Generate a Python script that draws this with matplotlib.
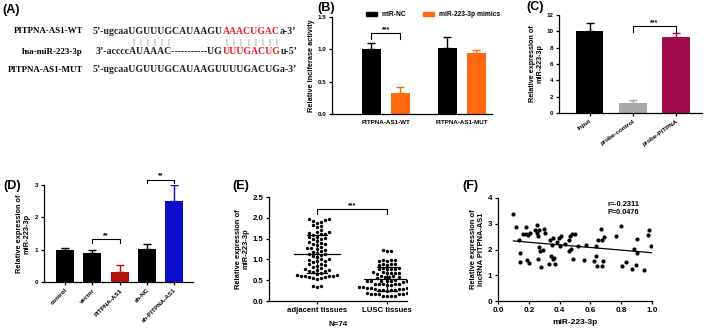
import matplotlib
matplotlib.use('Agg')
import matplotlib.pyplot as plt
from matplotlib.font_manager import FontProperties
from matplotlib.patches import Patch
import numpy as np

plt.rcParams['font.family'] = 'Liberation Sans'
plt.rcParams['font.weight'] = 'bold'
plt.rcParams['axes.labelweight'] = 'bold'
plt.rcParams['axes.linewidth'] = 0.9
plt.rcParams['xtick.major.width'] = 0.9
plt.rcParams['ytick.major.width'] = 0.9
plt.rcParams['xtick.major.size'] = 2.5
plt.rcParams['ytick.major.size'] = 2.5
plt.rcParams['xtick.major.pad'] = 1.5
plt.rcParams['ytick.major.pad'] = 1.5

# (A) sequences
a_names = ['PITPNA-AS1-WT', 'hsa-miR-223-3p', 'PITPNA-AS1-MUT']
a_wt = ["5’-ugcaaUGUUUGCAUAAGU", "AAACUGAC", "a-3’"]
a_mir = ["3’-accccAUAAAC-----------UG", "UUUGACUG", "u-5’"]
a_mut = ["5’-ugcaaUGUUUGCAUAAGUUUUGACUGa-3’"]

# (B) luciferase assay
b_groups = ['PITPNA-AS1-WT', 'PITPNA-AS1-MUT']
b_nc = [1.0, 1.02]
b_nc_err = [0.10, 0.17]
b_mim = [0.33, 0.94]
b_mim_err = [0.08, 0.05]

# (C) pull-down
c_labels = ['Input', 'probe-control', 'probe-PITPNA']
c_vals = [10.1, 1.2, 9.25]
c_err = [0.9, 0.35, 0.5]

# (D) overexpression / knockdown
d_labels = ['control', 'vector', 'PITPNA-AS1', 'sh-NC', 'sh-PITPNA-AS1']
d_vals = [1.0, 0.91, 0.32, 1.03, 2.52]
d_err = [0.05, 0.09, 0.20, 0.16, 0.48]

# (E) tissues, N=74
e_labels = ['adjacent tissues', 'LUSC tissues']
e_adjacent = [1.97, 1.95, 1.93, 1.96, 1.90, 1.88, 1.80, 1.82, 1.78, 1.70,
              1.65, 1.63, 1.60, 1.62, 1.66, 1.58, 1.52, 1.50, 1.55, 1.48,
              1.53, 1.45, 1.40, 1.38, 1.42, 1.36, 1.35, 1.28, 1.25, 1.30,
              1.22, 1.27, 1.20, 1.18, 1.12, 1.10, 1.08, 1.15, 1.05, 1.13,
              0.98, 1.00, 0.95, 0.97, 1.02, 0.93, 0.90, 0.85, 0.88, 0.82,
              0.86, 0.80, 0.75, 0.73, 0.76, 0.72, 0.74, 0.70, 0.68, 0.65,
              0.62, 0.60, 0.58, 0.63, 0.57, 0.61, 0.55, 0.59, 0.60, 0.56,
              0.54, 0.36, 0.34, 0.35]
e_lusc = [1.22, 1.21, 1.20, 0.98, 0.99, 0.97, 0.98, 0.96, 0.88, 0.89,
          0.87, 0.88, 0.86, 0.78, 0.79, 0.77, 0.78, 0.80, 0.76, 0.68,
          0.69, 0.67, 0.68, 0.70, 0.66, 0.68, 0.58, 0.59, 0.57, 0.58,
          0.60, 0.56, 0.48, 0.49, 0.47, 0.48, 0.50, 0.46, 0.48, 0.49,
          0.40, 0.41, 0.39, 0.40, 0.42, 0.38, 0.40, 0.32, 0.33, 0.31,
          0.32, 0.34, 0.30, 0.32, 0.33, 0.27, 0.28, 0.26, 0.27, 0.29,
          0.25, 0.27, 0.18, 0.19, 0.17, 0.18, 0.20, 0.16, 0.18, 0.19,
          0.12, 0.13, 0.11, 0.12]

# (F) correlation
f_mir = [0.10, 0.12, 0.135, 0.14, 0.146, 0.163, 0.18, 0.185, 0.19, 0.20,
         0.198, 0.21, 0.24, 0.25, 0.254, 0.259, 0.261, 0.265, 0.267, 0.272,
         0.28, 0.293, 0.298, 0.304, 0.33, 0.337, 0.343, 0.348, 0.354, 0.359,
         0.362, 0.37, 0.385, 0.398, 0.402, 0.407, 0.435, 0.459, 0.463, 0.467,
         0.472, 0.478, 0.489, 0.502, 0.522, 0.561, 0.572, 0.624, 0.637, 0.637,
         0.643, 0.652, 0.667, 0.676, 0.678, 0.685, 0.691, 0.765, 0.80, 0.807,
         0.828, 0.872, 0.88, 0.896, 0.902, 0.902, 0.95, 0.974, 0.98, 0.996]
f_lnc = [3.38, 2.86, 2.35, 1.87, 1.53, 2.60, 2.60, 2.86, 1.58, 1.47,
         2.58, 2.64, 2.77, 2.64, 2.94, 1.62, 2.51, 2.77, 2.08, 1.95,
         1.32, 1.99, 2.81, 2.64, 1.44, 2.35, 1.75, 2.18, 2.44, 1.62,
         1.66, 1.44, 2.31, 2.44, 2.12, 2.51, 2.22, 2.38, 1.95, 2.51,
         2.03, 2.61, 1.62, 2.60, 2.12, 1.60, 2.16, 1.56, 2.12, 1.75,
         1.34, 2.35, 2.81, 2.35, 1.34, 1.56, 2.47, 2.53, 2.90, 1.34,
         1.51, 1.25, 2.03, 1.40, 2.42, 1.87, 1.21, 2.57, 2.77, 2.12]

W, H = 709, 331
fig = plt.figure(figsize=(W / 100, H / 100), dpi=100)


def ax_px(l, t, r, b):
    a = fig.add_axes([l / W, 1 - b / H, (r - l) / W, (b - t) / H])
    a.spines['top'].set_visible(False)
    a.spines['right'].set_visible(False)
    return a


def bracket(ax, x1, x2, y, h, txt, fs=5):
    ax.plot([x1, x1, x2, x2], [y - h, y, y, y - h], color='k', lw=0.8, clip_on=False)
    ax.text((x1 + x2) / 2, y, txt, ha='center', va='bottom', fontsize=fs, clip_on=False)


def upbars(ax, x, v, e, cols):
    for xi, vi, ei, c in zip(x, v, e, cols):
        ax.errorbar([xi], [vi], yerr=[[0], [ei]], fmt='none', ecolor=c,
                    elinewidth=1.0, capsize=3, capthick=1.0)


def panel(x, y, s):
    fig.text(x / W, 1 - y / H, s, fontsize=9, ha='left', va='center')


# ---- (A)
panel(2, 10, '(A)')
r = fig.canvas.get_renderer()
sfp = FontProperties(family='Liberation Serif', weight='bold', size=7)
nfp = FontProperties(family='Liberation Serif', weight='bold', size=6.4)


def seq_row(x, y, parts, colors):
    for s, c in zip(parts, colors):
        t = fig.text(x / W, 1 - y / H, s, fontproperties=sfp, color=c, ha='left', va='center')
        x = t.get_window_extent(r).x1


def wpx(s):
    return r.get_text_width_height_descent(s, sfp, ismath=False)[0]


rows_y = [31, 52, 70]
for nm, yy in zip(a_names, rows_y):
    fig.text(83 / W, 1 - yy / H, nm, fontproperties=nfp, ha='right', va='center')
seq_row(93, rows_y[0], a_wt, ['#222222', '#e8202a', '#222222'])
seq_row(96, rows_y[1], a_mir, ['#222222', '#e8202a', '#222222'])
seq_row(93, rows_y[2], a_mut, ['#222222'])
mir_full = ''.join(a_mir)
start2 = len(a_mir[0])
pair_idx = list(range(8, 14)) + list(range(start2, start2 + len(a_mir[1])))
for i in pair_idx:
    xc = 96 + (wpx(mir_full[:i]) + wpx(mir_full[:i + 1])) / 2
    fig.text(xc / W, 1 - 42 / H, '|', fontsize=5, color='#888888', ha='center', va='center',
             fontweight='normal')

# ---- (B)
panel(317, 8, '(B)')
ax = ax_px(332, 17, 492, 114)
xb = np.arange(len(b_groups))
ax.bar(xb - 0.19, b_nc, 0.25, color='black')
ax.bar(xb + 0.19, b_mim, 0.25, color='#ff6a10')
upbars(ax, xb - 0.19, b_nc, b_nc_err, ['black'] * 2)
upbars(ax, xb + 0.19, b_mim, b_mim_err, ['#ff6a10'] * 2)
ax.set_xlim(-0.71, 1.4)
ax.set_ylim(0, 1.5)
ax.set_yticks([0, 0.5, 1.0, 1.5])
ax.set_yticklabels(['0.0', '0.5', '1.0', '1.5'])
ax.set_xticks(xb)
ax.set_xticklabels(b_groups)
ax.tick_params(axis='x', length=0, pad=4)
ax.tick_params(labelsize=4.5)
ax.set_ylabel('Relative lnciferase activity', fontsize=5.3, labelpad=2)
bracket(ax, -0.19, 0.19, 1.25, 0.09, '***')
fig.legend(handles=[Patch(color='black', label='miR-NC'), Patch(color='#ff6a10', label='miR-223-3p mimics')],
           loc='center left', bbox_to_anchor=(360 / W, 1 - 15 / H), ncol=2, frameon=False,
           fontsize=4.8, handlelength=1.6, handleheight=0.5, columnspacing=2.5, handletextpad=0.8)

# ---- (C)
panel(526, 7, '(C)')
ax = ax_px(559, 15, 702, 113)
xc = np.arange(len(c_labels))
c_cols = ['black', '#a8a8a8', '#a30c4c']
ax.bar(xc, c_vals, 0.64, color=c_cols)
upbars(ax, xc, c_vals, c_err, c_cols)
ax.set_xlim(-0.71, 2.6)
ax.set_ylim(0, 12)
ax.set_yticks(range(0, 13, 2))
ax.set_xticks(xc)
ax.set_xticklabels(c_labels, rotation=35, ha='right', rotation_mode='anchor')
ax.tick_params(labelsize=4.5)
ax.set_ylabel('Relative expression of\nmiR-223-3p', fontsize=5.2, labelpad=2)
bracket(ax, 1, 2, 10.6, 0.7, '***')

# ---- (D)
panel(3, 186, '(D)')
ax = ax_px(44, 185, 193, 282)
xd = np.arange(len(d_labels))
d_cols = ['black', 'black', '#b3120f', 'black', '#0d0dcc']
ax.bar(xd, d_vals, 0.66, color=d_cols)
upbars(ax, xd, d_vals, d_err, d_cols)
ax.set_xlim(-0.77, 4.69)
ax.set_ylim(0, 3)
ax.set_yticks([0, 1, 2, 3])
ax.set_xticks(xd)
ax.set_xticklabels(d_labels, rotation=45, ha='right', rotation_mode='anchor')
ax.tick_params(labelsize=4.5)
ax.set_ylabel('Relative expression of\nmiR-223-3p', fontsize=5.3, labelpad=3)
bracket(ax, 1, 2, 1.33, 0.12, '**')
bracket(ax, 3, 4, 3.17, 0.12, '**')

# ---- (E)
panel(232, 186, '(E)')
ax = ax_px(269, 197, 407, 301)
E_XPX, E_YPX = 70.0, 104 / 2.5   # px per data unit, used only to space the dots


def swarm(vals, center, d=4.0):
    # simple beeswarm: place each dot at the smallest offset that avoids overlap
    v = np.sort(np.asarray(vals))
    placed = []
    xs = []
    for y in v:
        yp = y * E_YPX
        k = 0
        while True:
            for off in ([0.0] if k == 0 else [k * d / 2, -k * d / 2]):
                if all((off - px) ** 2 + (yp - py) ** 2 >= d * d for px, py in placed):
                    break
            else:
                k += 1
                continue
            break
        placed.append((off, yp))
        xs.append(center + off / E_XPX)
    return np.array(xs), v


for i, vals in enumerate([e_adjacent, e_lusc]):
    xs, ys = swarm(vals, i)
    ax.scatter(xs, ys, s=6, color='black', zorder=3, linewidths=0)
    m, sd = np.mean(vals), np.std(vals, ddof=1)
    ax.plot([i - 0.33, i + 0.33], [m, m], color='black', lw=0.9, zorder=4)
    ax.plot([i, i], [m - sd, m + sd], color='black', lw=0.9, zorder=4)
    for yy in (m - sd, m + sd):
        ax.plot([i - 0.14, i + 0.14], [yy, yy], color='black', lw=0.9, zorder=4)
ax.set_xlim(-0.69, 1.29)
ax.set_ylim(0, 2.5)
ax.set_yticks([0, 0.5, 1.0, 1.5, 2.0, 2.5])
ax.set_yticklabels(['0.0', '0.5', '1.0', '1.5', '2.0', '2.5'])
ax.set_xticks([0, 1])
ax.set_xticklabels(e_labels)
ax.tick_params(labelsize=5.6)
ax.set_xlabel('N=74', fontsize=5.8, labelpad=5)
ax.set_ylabel('Relative expression of\nmiR-223-3p', fontsize=5.4, labelpad=2)
bracket(ax, 0, 1, 2.2, 0.1, '***')

# ---- (F)
panel(462, 186, '(F)')
ax = ax_px(498, 198, 652, 301)
ax.scatter(f_mir, f_lnc, s=9, color='black', linewidths=0, zorder=3)
k, b0 = np.polyfit(f_mir, f_lnc, 1)
xl = np.array([min(f_mir), max(f_mir)])
ax.plot(xl, k * xl + b0, color='black', lw=0.9)
ax.set_xlim(0, 1.0)
ax.set_ylim(0, 4)
ax.set_yticks([0, 1, 2, 3, 4])
ax.set_xticks(np.arange(0, 1.01, 0.2))
ax.set_xticklabels(['0.0', '0.2', '0.4', '0.6', '0.8', '1.0'])
ax.tick_params(labelsize=5.8)
ax.text(0.71, 3.88, 'r=-0.2311\nP=0.0476', fontsize=5.3, va='top', ha='left', linespacing=1.1)
ax.set_xlabel('miR-223-3p', fontsize=6, labelpad=4)
ax.set_ylabel('Relative expression of\nlncRNA PITPNA-AS1', fontsize=5.4, labelpad=2)

fig.savefig('out.png', dpi=100)
